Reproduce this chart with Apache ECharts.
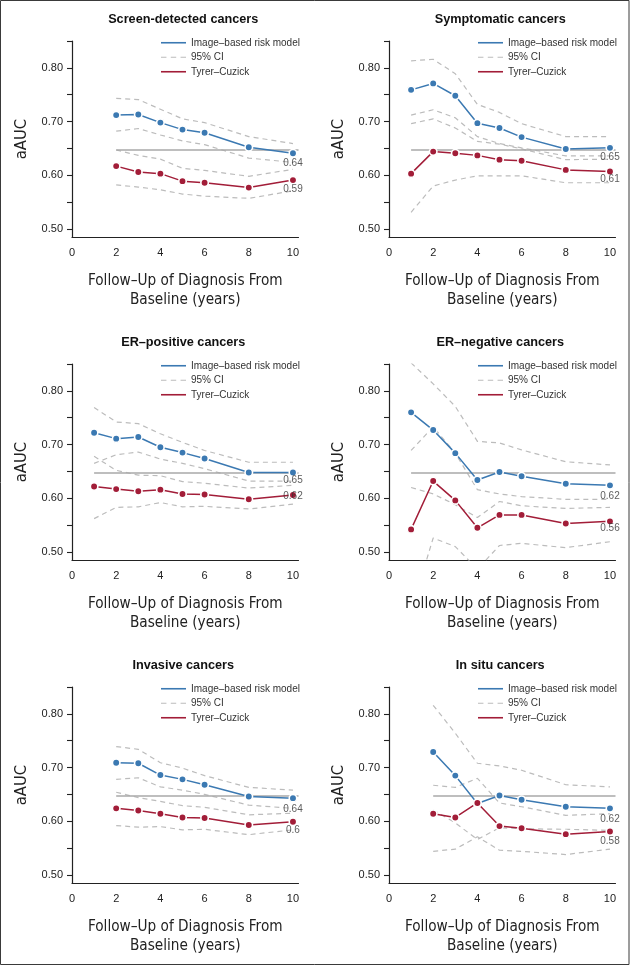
<!DOCTYPE html>
<html>
<head>
<meta charset="utf-8">
<script src="https://cdn.jsdelivr.net/npm/echarts@6/dist/echarts.min.js"></script>
<style>
html,body{margin:0;padding:0;background:#fff;}
#chart{width:630px;height:966px;}
</style>
</head>
<body>
<div id="chart"></div>
<script>
// ---------- data ----------
const yearsFrom2 = [2, 3, 4, 5, 6, 8, 10];
const yearsFrom1 = [1, 2, 3, 4, 5, 6, 8, 10];
const refLevel = 0.647;

const screenModel   = [0.712, 0.713, 0.698, 0.685, 0.679, 0.652, 0.641];
const screenModelHi = [0.743, 0.741, 0.723, 0.705, 0.698, 0.672, 0.659];
const screenModelLo = [0.682, 0.687, 0.675, 0.664, 0.657, 0.632, 0.624];
const screenTC      = [0.617, 0.606, 0.603, 0.589, 0.586, 0.577, 0.591];
const screenTCHi    = [0.647, 0.637, 0.630, 0.613, 0.609, 0.598, 0.611];
const screenTCLo    = [0.582, 0.578, 0.573, 0.565, 0.561, 0.557, 0.571];
const screenLabels  = ['0.64', '0.59'];

const sympModel   = [0.759, 0.771, 0.748, 0.697, 0.688, 0.671, 0.649, 0.651];
const sympModelHi = [0.813, 0.816, 0.789, 0.732, 0.717, 0.696, 0.672, 0.672];
const sympModelLo = [0.712, 0.722, 0.707, 0.672, 0.659, 0.651, 0.636, 0.636];
const sympTC      = [0.603, 0.644, 0.641, 0.637, 0.629, 0.627, 0.610, 0.607];
const sympTCHi    = [0.696, 0.705, 0.688, 0.663, 0.658, 0.649, 0.629, 0.630];
const sympTCLo    = [0.531, 0.580, 0.591, 0.599, 0.599, 0.599, 0.586, 0.586];
const sympLabels  = ['0.65', '0.61'];

const erpModel   = [0.722, 0.711, 0.714, 0.695, 0.685, 0.674, 0.648, 0.648];
const erpModelHi = [0.769, 0.742, 0.739, 0.720, 0.704, 0.689, 0.667, 0.667];
const erpModelLo = [0.665, 0.681, 0.686, 0.673, 0.665, 0.655, 0.632, 0.632];
const erpTC      = [0.622, 0.617, 0.613, 0.616, 0.608, 0.607, 0.598, 0.606];
const erpTCHi    = [0.678, 0.652, 0.643, 0.642, 0.631, 0.628, 0.619, 0.624];
const erpTCLo    = [0.562, 0.583, 0.584, 0.592, 0.584, 0.585, 0.580, 0.589];
const erpLabels  = ['0.65', '0.62'];

const ernModel   = [0.760, 0.727, 0.684, 0.634, 0.649, 0.641, 0.627, 0.624];
const ernModelHi = [0.852, 0.813, 0.771, 0.706, 0.703, 0.690, 0.668, 0.662];
const ernModelLo = [0.689, 0.733, 0.684, 0.616, 0.608, 0.603, 0.598, 0.598];
const ernTC      = [0.542, 0.632, 0.596, 0.545, 0.569, 0.569, 0.553, 0.557];
const ernTCHi    = [0.620, 0.608, 0.588, 0.564, 0.594, 0.586, 0.581, 0.583];
const ernTCLo    = [0.390, 0.526, 0.510, 0.468, 0.512, 0.516, 0.508, 0.519];
const ernLabels  = ['0.62', '0.56'];

const invModel   = [0.709, 0.708, 0.686, 0.678, 0.668, 0.646, 0.643];
const invModelHi = [0.739, 0.734, 0.709, 0.699, 0.685, 0.663, 0.658];
const invModelLo = [0.678, 0.681, 0.664, 0.658, 0.650, 0.630, 0.624];
const invTC      = [0.624, 0.620, 0.614, 0.607, 0.606, 0.593, 0.599];
const invTCHi    = [0.654, 0.644, 0.637, 0.629, 0.626, 0.612, 0.615];
const invTCLo    = [0.592, 0.589, 0.590, 0.584, 0.585, 0.575, 0.584];
const invLabels  = ['0.64', '0.6'];

const insModel   = [0.729, 0.685, 0.633, 0.648, 0.640, 0.627, 0.624];
const insModelHi = [0.816, 0.764, 0.708, 0.703, 0.695, 0.668, 0.664];
const insModelLo = [0.667, 0.663, 0.680, 0.634, 0.627, 0.611, 0.614];
const insTC      = [0.614, 0.607, 0.634, 0.591, 0.587, 0.576, 0.581];
const insTCHi    = [0.621, 0.597, 0.566, 0.588, 0.586, 0.585, 0.583];
const insTCLo    = [0.544, 0.548, 0.571, 0.546, 0.544, 0.538, 0.548];
const insLabels  = ['0.62', '0.58'];

const titles = ['Screen-detected cancers', 'Symptomatic cancers', 'ER–positive cancers',
                'ER–negative cancers', 'Invasive cancers', 'In situ cancers'];
const yTickValues  = [0.50, 0.55, 0.60, 0.65, 0.70, 0.75, 0.80, 0.85];
const yLabelValues = [0.50, 0.60, 0.70, 0.80];
const xLabelValues = [0, 2, 4, 6, 8, 10];
const modelName = 'Image–based risk model';
const ciName = '95% CI';
const tcName = 'Tyrer–Cuzick';
const xName = 'Follow–Up of Diagnosis From\nBaseline (years)';
const yName = 'aAUC';

// ---------- layout / style ----------
const panels = [
  {title: titles[0], x: yearsFrom2, m: screenModel, mHi: screenModelHi, mLo: screenModelLo, t: screenTC, tHi: screenTCHi, tLo: screenTCLo, lab: screenLabels},
  {title: titles[1], x: yearsFrom1, m: sympModel, mHi: sympModelHi, mLo: sympModelLo, t: sympTC, tHi: sympTCHi, tLo: sympTCLo, lab: sympLabels},
  {title: titles[2], x: yearsFrom1, m: erpModel, mHi: erpModelHi, mLo: erpModelLo, t: erpTC, tHi: erpTCHi, tLo: erpTCLo, lab: erpLabels},
  {title: titles[3], x: yearsFrom1, m: ernModel, mHi: ernModelHi, mLo: ernModelLo, t: ernTC, tHi: ernTCHi, tLo: ernTCLo, lab: ernLabels},
  {title: titles[4], x: yearsFrom2, m: invModel, mHi: invModelHi, mLo: invModelLo, t: invTC, tHi: invTCHi, tLo: invTCLo, lab: invLabels},
  {title: titles[5], x: yearsFrom2, m: insModel, mHi: insModelHi, mLo: insModelLo, t: insTC, tHi: insTCHi, tLo: insTCLo, lab: insLabels}
];

const BLUE = '#3b79b2';
const RED = '#a21d38';
const CI = '#bcbcbc';
const REF = '#a8a8a8';
const FONT = "'Liberation Sans', Arial, Helvetica, sans-serif";
const NARROW = "'Liberation Sans Narrow', 'Arial Narrow', 'DejaVu Sans Condensed', sans-serif";

const colLeft = [72, 389];
const rowTop = [41, 364, 687];
const gridW = 226.5, gridH = 196;
const xMax = 10.25;
const dashIcon = 'path://M0,0h5v1h-5z M9,0h5v1h-5z M18,0h5v1h-5z';

const grid = [], xAxis = [], yAxis = [], series = [], title = [], legend = [];

panels.forEach((p, i) => {
  const col = i % 2, row = Math.floor(i / 2);
  const left = colLeft[col], top = rowTop[row];
  grid.push({left: left, top: top, width: gridW, height: gridH, containLabel: false});
  title.push({
    text: p.title, left: left + gridW / 2 - 7, top: top - 33, textAlign: 'center',
    textStyle: {fontFamily: FONT, fontSize: 12.7, fontWeight: 'bold', color: '#111'}
  });
  xAxis.push({
    gridIndex: i, type: 'value', min: 0, max: xMax,
    name: xName, nameLocation: 'middle', nameGap: 35,
    nameTextStyle: {fontFamily: NARROW, fontSize: 15.2, color: '#222', lineHeight: 18.5},
    axisLine: {show: true, onZero: false, lineStyle: {color: '#222', width: 1.2}},
    axisTick: {show: false},
    splitLine: {show: false},
    axisLabel: {customValues: xLabelValues, fontFamily: FONT, fontSize: 11, color: '#222', margin: 10,
      formatter: v => String(v)}
  });
  yAxis.push({
    gridIndex: i, type: 'value', min: 0.485, max: 0.85,
    name: yName, nameLocation: 'middle', nameGap: 42,
    nameTextStyle: {fontFamily: NARROW, fontSize: 16.5, color: '#222'},
    axisLine: {show: true, onZero: false, lineStyle: {color: '#222', width: 1.2}},
    axisTick: {show: true, customValues: yTickValues, length: 5, lineStyle: {color: '#222', width: 1.1}},
    splitLine: {show: false},
    axisLabel: {customValues: yLabelValues, fontFamily: FONT, fontSize: 11, color: '#222', margin: 9,
      formatter: v => v.toFixed(2)}
  });
  legend.push({
    left: left + 84, top: top - 10.5, orient: 'vertical',
    itemWidth: 25, itemHeight: 1.6, itemGap: 0, selectedMode: false,
    itemStyle: {borderWidth: 0},
    textStyle: {fontFamily: FONT, fontSize: 10, color: '#333', lineHeight: 14.5},
    data: [{name: modelName, icon: 'rect'}, {name: ciName, icon: dashIcon}, {name: tcName, icon: 'rect'}]
  });

  const zip = arr => p.x.map((xv, k) => [xv, arr[k]]);
  [p.mHi, p.mLo, p.tHi, p.tLo].forEach(arr => {
    series.push({
      type: 'line', name: ciName, xAxisIndex: i, yAxisIndex: i, data: zip(arr),
      symbol: 'none', clip: true, silent: true, z: 1,
      itemStyle: {color: CI},
      lineStyle: {color: CI, width: 1.2, type: [5, 4]}
    });
  });
  series.push({
    type: 'line', name: 'reference', xAxisIndex: i, yAxisIndex: i,
    data: [[p.x[0], refLevel], [xMax, refLevel]],
    symbol: 'none', silent: true, z: 2,
    lineStyle: {color: REF, width: 1.3}
  });
  [[p.m, modelName, BLUE], [p.t, tcName, RED]].forEach(([arr, nm, c]) => {
    series.push({
      type: 'line', name: nm, xAxisIndex: i, yAxisIndex: i, data: zip(arr),
      symbol: 'circle', symbolSize: 7.5, showSymbol: true, silent: true, z: 4,
      itemStyle: {color: c, borderColor: '#fff', borderWidth: 1.6},
      lineStyle: {color: c, width: 1.5}
    });
  });
  series.push({
    type: 'scatter', xAxisIndex: i, yAxisIndex: i, silent: true, z: 5,
    data: p.lab.map(s => [10, Number(s)]),
    symbolSize: 0,
    label: {show: true, position: 'bottom', distance: 4,
      formatter: prm => p.lab[prm.dataIndex],
      fontFamily: FONT, fontSize: 10, color: '#333'}
  });
});

const chart = echarts.init(document.getElementById('chart'), null, {renderer: 'canvas'});
chart.setOption({
  animation: false,
  backgroundColor: '#fff',
  title: title, grid: grid, xAxis: xAxis, yAxis: yAxis, legend: legend, series: series,
  graphic: [{type: 'rect', silent: true, z: 100,
    shape: {x: 0.5, y: 0.5, width: 628.5, height: 964},
    style: {fill: 'none', stroke: '#3a3a3a', lineWidth: 1}}]
});
</script>
</body>
</html>
